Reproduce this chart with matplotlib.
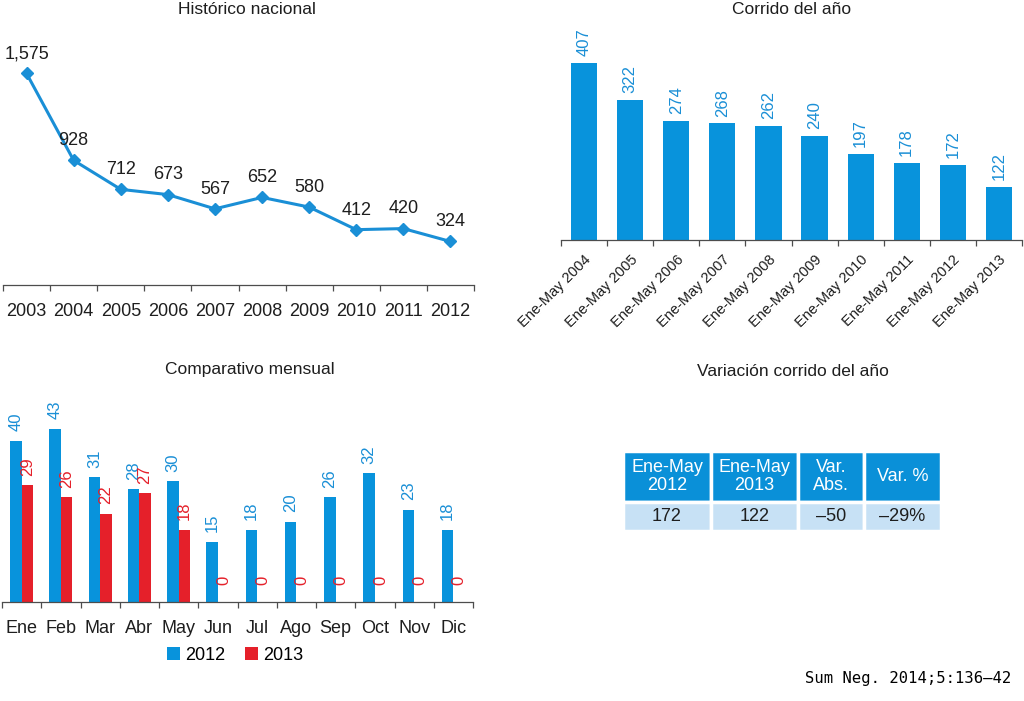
import matplotlib
matplotlib.use("Agg")
import matplotlib.pyplot as plt
import numpy as np
from matplotlib.patches import Rectangle

# ── Data ─────────────────────────────────────────────────────────────────────
years = ["2003", "2004", "2005", "2006", "2007", "2008", "2009", "2010", "2011", "2012"]
national = [1575, 928, 712, 673, 567, 652, 580, 412, 420, 324]

ytd_labels = ["Ene-May 2004", "Ene-May 2005", "Ene-May 2006", "Ene-May 2007",
              "Ene-May 2008", "Ene-May 2009", "Ene-May 2010", "Ene-May 2011",
              "Ene-May 2012", "Ene-May 2013"]
ytd_values = [407, 322, 274, 268, 262, 240, 197, 178, 172, 122]

months = ["Ene", "Feb", "Mar", "Abr", "May", "Jun", "Jul", "Ago", "Sep", "Oct", "Nov", "Dic"]
monthly_2012 = [40, 43, 31, 28, 30, 15, 18, 20, 26, 32, 23, 18]
monthly_2013 = [29, 26, 22, 27, 18, 0, 0, 0, 0, 0, 0, 0]

table_header = ["Ene-May\n2012", "Ene-May\n2013", "Var.\nAbs.", "Var. %"]
table_row = ["172", "122", "\u201350", "\u201329%"]

# ── Style ────────────────────────────────────────────────────────────────────
BLUE = "#0893dc"
LINE_BLUE = "#1a8fd6"
RED = "#e5202a"
AXIS = "#4d4d4d"
TEXT = "#1e1e1e"
HEAD = "#0a90d8"
CELL = "#c7e1f5"

plt.rcParams["font.family"] = ["Liberation Sans", "DejaVu Sans"]

W, H = 1024, 701
fig = plt.figure(figsize=(W / 100, H / 100), dpi=100)


def px_axes(x0, y0, x1, y1):
    """Axes from pixel box (top-left origin)."""
    return fig.add_axes([x0 / W, 1 - y1 / H, (x1 - x0) / W, (y1 - y0) / H])


def category_axis(ax, n, pad):
    for s in ("top", "right", "left"):
        ax.spines[s].set_visible(False)
    ax.spines["bottom"].set_color(AXIS)
    ax.spines["bottom"].set_linewidth(0.9)
    ax.set_xlim(-0.5, n - 0.5)
    ax.set_yticks([])
    ax.set_xticks(np.arange(n))
    ax.set_xticks(np.arange(n + 1) - 0.5, minor=True)
    ax.tick_params(axis="x", which="major", length=0, pad=pad, labelsize=13, colors=TEXT)
    ax.tick_params(axis="x", which="minor", length=4.5, width=0.9, color=AXIS, direction="out")


# ── Histórico nacional ───────────────────────────────────────────────────────
ax1 = px_axes(3, 40, 474, 285)
x = np.arange(len(years))
ax1.plot(x, national, color=LINE_BLUE, lw=2.2, marker="D", markersize=6.5)
ax1.set_ylim(0, 1824)
category_axis(ax1, len(years), pad=13)
ax1.set_xticklabels(years)
for xi, v in zip(x, national):
    ax1.annotate(f"{v:,}", (xi, v), xytext=(0, 8), textcoords="offset points",
                 ha="center", va="bottom", fontsize=13, color=TEXT)
fig.text(247 / W, 1 - 9 / H, "Histórico nacional", ha="center", va="center",
         fontsize=12.5, color=TEXT)

# ── Corrido del año ──────────────────────────────────────────────────────────
ax2 = px_axes(561, 20, 1022, 240)
x2 = np.arange(len(ytd_values))
ax2.bar(x2, ytd_values, width=0.57, color=BLUE)
ax2.set_ylim(0, 506)
category_axis(ax2, len(ytd_values), pad=9)
ax2.set_xticklabels(ytd_labels, rotation=45, ha="right", va="top",
                    rotation_mode="anchor", fontsize=10.5)
for xi, v in zip(x2, ytd_values):
    ax2.annotate(str(v), (xi, v), xytext=(0, 5), textcoords="offset points",
                 ha="center", va="bottom", rotation=90, fontsize=12, color=LINE_BLUE)
fig.text(792 / W, 1 - 9 / H, "Corrido del año", ha="center", va="center",
         fontsize=12.5, color=TEXT)

# ── Comparativo mensual ──────────────────────────────────────────────────────
ax3 = px_axes(2, 401, 473, 602)
x3 = np.arange(len(months))
bw = 0.29
ax3.bar(x3 - bw / 2, monthly_2012, width=bw, color=BLUE, label="2012")
ax3.bar(x3 + bw / 2, monthly_2013, width=bw, color=RED, label="2013")
ax3.set_ylim(0, 50)
category_axis(ax3, len(months), pad=13)
ax3.set_xticklabels(months)
for xi, a, b in zip(x3, monthly_2012, monthly_2013):
    ax3.annotate(str(a), (xi - bw / 2, a), xytext=(0, 7), textcoords="offset points",
                 ha="center", va="bottom", rotation=90, fontsize=12, color=LINE_BLUE)
    ax3.annotate(str(b), (xi + bw / 2, b), xytext=(0, 12 if b == 0 else 7),
                 textcoords="offset points", ha="center", va="bottom",
                 rotation=90, fontsize=12, color=RED)
ax3.legend(loc="center", bbox_to_anchor=(233 / 471, -0.265), ncol=2, frameon=False,
           fontsize=13, handlelength=0.7, handleheight=0.7, handletextpad=0.3,
           columnspacing=1.1, borderaxespad=0)
fig.text(250 / W, 1 - 370 / H, "Comparativo mensual", ha="center", va="center",
         fontsize=12.5, color=TEXT)

# ── Variación corrido del año (table) ────────────────────────────────────────
fig.text(793 / W, 1 - 371 / H, "Variación corrido del año", ha="center", va="center",
         fontsize=12.5, color=TEXT)
ax4 = px_axes(623, 451, 941, 531)
ax4.set_axis_off()
col_w = [88, 87, 66, 77]
row_h = [51, 29]
ax4.set_xlim(0, sum(col_w))
ax4.set_ylim(sum(row_h), 0)
left = 0
for w, head, val in zip(col_w, table_header, table_row):
    ax4.add_patch(Rectangle((left, 0), w, row_h[0], facecolor=HEAD,
                            edgecolor="white", lw=2.5))
    ax4.add_patch(Rectangle((left, row_h[0]), w, row_h[1], facecolor=CELL,
                            edgecolor="white", lw=2.5))
    ax4.text(left + w / 2, row_h[0] / 2, head, ha="center", va="center",
             fontsize=13, color="white", linespacing=1.05)
    ax4.text(left + w / 2, row_h[0] + row_h[1] / 2, val, ha="center", va="center",
             fontsize=13, color=TEXT)
    left += w

fig.text(1011 / W, 1 - 678 / H, "Sum Neg. 2014;5:136\u201342", ha="right", va="center",
         fontsize=11.2, family="DejaVu Sans Mono", color="black")

fig.savefig("out.png", dpi=100)
